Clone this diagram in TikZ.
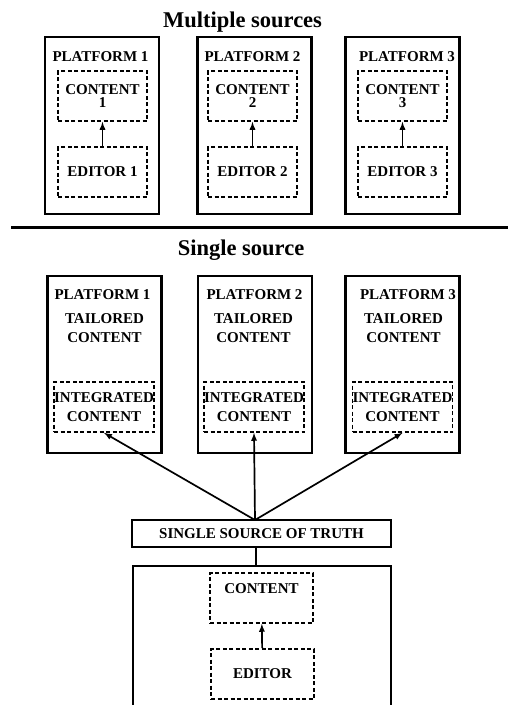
\documentclass[tikz,border=0pt]{standalone}
\usepackage{fontspec}
\setmainfont{Liberation Serif}
\usetikzlibrary{arrows}

\begin{document}
\begin{tikzpicture}[x=1pt,y=-1pt]
\tikzstyle{every node}=[inner sep=0pt, font=\bfseries\fontsize{15}{19}\selectfont, align=center]
\tikzstyle{platbox}=[draw, line width=2.1pt, minimum width=114pt, minimum height=177pt]
\tikzstyle{dashbox}=[draw, line width=1.7pt, dash pattern=on 4pt off 2.5pt, minimum height=50pt]
\tikzstyle{heading}=[anchor=base, font=\bfseries\fontsize{22.5}{26}\selectfont]
\tikzstyle{flow}=[-latex, line width=1.7pt]
\useasboundingbox (0,0) rectangle (508,705);
% multiple sources
\draw (242.5,27) node (mtitle) [heading] {Multiple sources};
\draw (102,125.5) node (mp1) [platbox] {};
\draw (254.5,125.5) node (mp2) [platbox] {};
\draw (402.5,125.5) node (mp3) [platbox] {};
\draw (100.5,57) node (ml1) {PLATFORM 1};
\draw (252.5,57) node (ml2) {PLATFORM 2};
\draw (407,57) node (ml3) {PLATFORM 3};
\draw (102.5,96) node (mc1) [dashbox, minimum width=89pt, font=\bfseries\fontsize{15}{13.5}\selectfont] {CONTENT\\1};
\draw (252.5,96) node (mc2) [dashbox, minimum width=89pt, font=\bfseries\fontsize{15}{13.5}\selectfont] {CONTENT\\2};
\draw (402.5,96) node (mc3) [dashbox, minimum width=89pt, font=\bfseries\fontsize{15}{13.5}\selectfont] {CONTENT\\3};
\draw (102.5,172) node (me1) [dashbox, minimum width=89pt] {EDITOR 1};
\draw (252.5,172) node (me2) [dashbox, minimum width=89pt] {EDITOR 2};
\draw (402.5,172) node (me3) [dashbox, minimum width=89pt] {EDITOR 3};
\draw[flow] (me1) -- (mc1);
\draw[flow] (me2) -- (mc2);
\draw[flow] (me3) -- (mc3);
\coordinate (rl) at (11,227.5);
\coordinate (rr) at (508,227.5);
\draw[line width=2.1pt] (rl) -- (rr);
% single source
\draw (241,255) node (stitle) [heading] {Single source};
\draw (104.5,364.5) node (sp1) [platbox] {};
\draw (255,364.5) node (sp2) [platbox] {};
\draw (402.5,364.5) node (sp3) [platbox] {};
\draw (102.5,295) node (sl1) {PLATFORM 1};
\draw (254.5,295) node (sl2) {PLATFORM 2};
\draw (408,295) node (sl3) {PLATFORM 3};
\draw (104.5,328.5) node (st1) {TAILORED\\CONTENT};
\draw (253.5,328.5) node (st2) {TAILORED\\CONTENT};
\draw (403.5,328.5) node (st3) {TAILORED\\CONTENT};
\draw (104,407) node (si1) [dashbox, minimum width=100pt] {INTEGRATED\\CONTENT};
\draw (254,407) node (si2) [dashbox, minimum width=100pt] {INTEGRATED\\CONTENT};
\draw (402.5,407) node (si3) [dashbox, minimum width=100pt] {INTEGRATED\\CONTENT};
\draw (261.5,533.5) node (truth) [draw, line width=2.1pt, minimum width=259pt, minimum height=27pt] {SINGLE SOURCE OF TRUTH};
\coordinate (hub) at (255,520);
\draw[flow] (hub) -- (si1.south);
\draw[flow] (hub) -- (si2.south);
\draw[flow] (hub) -- (si3.south);
\draw (262,640) node (store) [platbox, minimum width=258pt, minimum height=148pt] {};
\draw[line width=2.1pt] (truth.south -| 256,0) -- (store.north -| 256,0);
\draw (261.5,598) node (sc) [dashbox, minimum width=103pt] {CONTENT\\\mbox{}};
\draw (262.5,674) node (se) [dashbox, minimum width=103pt] {EDITOR};
\draw[flow] (se) -- (sc);
\end{tikzpicture}
\end{document}
